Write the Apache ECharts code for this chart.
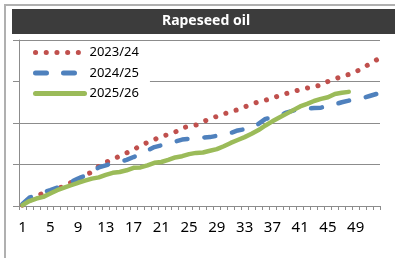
<!DOCTYPE html>
<html>
<head>
<meta charset="utf-8">
<script src="https://cdn.jsdelivr.net/npm/echarts@6/dist/echarts.min.js"></script>
<style>
  html, body { margin: 0; padding: 0; background: #fff; }
  #chart { width: 395px; height: 258px; }
</style>
</head>
<body>
<div id="chart"></div>
<script>
// 周次 1..52
const weeks = [];
for (let w = 1; w <= 52; w++) weeks.push(String(w));

// 各季度累计值
const s2023 = [0.02, 0.12, 0.22, 0.32, 0.35, 0.41, 0.48, 0.57, 0.64, 0.74,
  0.82, 0.96, 1.05, 1.13, 1.20, 1.28, 1.35, 1.46, 1.53, 1.60,
  1.68, 1.72, 1.78, 1.88, 1.92, 1.95, 2.03, 2.10, 2.16, 2.22,
  2.27, 2.32, 2.39, 2.45, 2.51, 2.55, 2.60, 2.66, 2.71, 2.76,
  2.80, 2.84, 2.87, 2.92, 3.00, 3.06, 3.12, 3.17, 3.23, 3.33,
  3.42, 3.52];
const s2024 = [0.05, 0.20, 0.27, 0.33, 0.38, 0.44, 0.49, 0.58, 0.66, 0.73,
  0.82, 0.93, 0.98, 1.04, 1.07, 1.11, 1.18, 1.24, 1.34, 1.42,
  1.46, 1.50, 1.55, 1.60, 1.62, 1.64, 1.65, 1.66, 1.69, 1.72,
  1.76, 1.82, 1.85, 1.88, 1.98, 2.10, 2.13, 2.17, 2.25, 2.30,
  2.33, 2.35, 2.36, 2.37, 2.41, 2.45, 2.50, 2.54, 2.57, 2.60,
  2.65, 2.70];
const s2025 = [0.02, 0.12, 0.18, 0.22, 0.30, 0.38, 0.44, 0.50, 0.56, 0.61,
  0.66, 0.69, 0.75, 0.80, 0.82, 0.86, 0.92, 0.93, 0.98, 1.04,
  1.06, 1.11, 1.17, 1.20, 1.25, 1.28, 1.29, 1.33, 1.37, 1.44,
  1.52, 1.59, 1.66, 1.74, 1.83, 1.94, 2.04, 2.13, 2.22, 2.31,
  2.40, 2.46, 2.53, 2.58, 2.62, 2.70, 2.73, 2.75];

const seriesNames = ['2023/24', '2024/25', '2025/26'];
const axisGray = '#8c8c8c';

const chart = echarts.init(document.getElementById('chart'));

chart.setOption({
  animation: false,
  backgroundColor: '#fff',
  textStyle: { fontFamily: 'Noto Sans' },
  // 外框 + 标题栏
  graphic: [
    { type: 'polyline', silent: true, z: 10,
      shape: { points: [[5, 258], [5, 5], [395, 5]] },
      style: { stroke: '#b0b0b0', lineWidth: 2, fill: null } },
    { type: 'rect', silent: true, z: 10,
      shape: { x: 12, y: 9, width: 383, height: 25 },
      style: { fill: '#3c3c3c' } },
    { type: 'text', silent: true, z: 11, x: 206, y: 21.5,
      style: { text: 'Rapeseed oil', fill: '#fff', font: 'bold 14px "Noto Sans"',
        align: 'center', verticalAlign: 'middle' } }
  ],
  legend: {
    data: seriesNames,
    orient: 'vertical',
    left: 20,
    top: 41,
    padding: [5, 11, 5, 13],
    backgroundColor: '#fff',
    itemWidth: 49,
    itemHeight: 14,
    itemGap: 7.5,
    itemStyle: { opacity: 0 },
    lineStyle: { width: 5 },
    textStyle: { fontSize: 13, color: '#000', fontFamily: 'Noto Sans' }
  },
  grid: { left: 19, top: 40, right: 15, bottom: 52, containLabel: false },
  xAxis: {
    type: 'category',
    data: weeks,
    boundaryGap: true,
    axisLine: { lineStyle: { color: axisGray, width: 1 } },
    axisTick: { show: true, interval: 0, length: 4, lineStyle: { color: axisGray } },
    axisLabel: { interval: 3, color: '#000', fontSize: 15, margin: 14, fontFamily: 'Noto Sans' },
    splitLine: { show: false }
  },
  yAxis: {
    type: 'value',
    min: 0,
    max: 4,
    interval: 1,
    axisLine: { show: true, lineStyle: { color: axisGray } },
    axisTick: { show: true, length: 6, lineStyle: { color: axisGray } },
    axisLabel: { show: false },
    splitLine: { lineStyle: { color: axisGray, width: 1 } }
  },
  series: [
    {
      name: seriesNames[0], type: 'line', data: s2023, symbol: 'none',
      color: '#c0504d',
      lineStyle: { color: '#c0504d', width: 5, type: [0.1, 10.6], cap: 'round' }
    },
    {
      name: seriesNames[1], type: 'line', data: s2024, symbol: 'none',
      color: '#4f81bd',
      lineStyle: { color: '#4f81bd', width: 4.5, type: [11, 17], cap: 'round' }
    },
    {
      name: seriesNames[2], type: 'line', data: s2025, symbol: 'none',
      color: '#9bbb59',
      lineStyle: { color: '#9bbb59', width: 4.5, cap: 'round', join: 'round' }
    }
  ]
});
</script>
</body>
</html>
